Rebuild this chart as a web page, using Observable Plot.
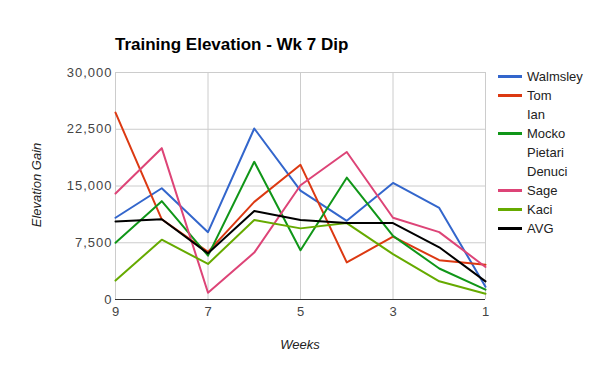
<!DOCTYPE html>
<html><head><meta charset="utf-8">
<script src="https://cdn.jsdelivr.net/npm/d3@7"></script>
<script src="https://cdn.jsdelivr.net/npm/@observablehq/plot@0.6"></script>
<style>
body{margin:0;background:#fff;font-family:"Liberation Sans",Arial,sans-serif;}
#wrap{position:relative;width:600px;height:371px;}
#title{position:absolute;left:115px;top:35px;font-weight:bold;font-size:17px;color:#000;white-space:nowrap;}
#legend{position:absolute;left:498px;top:67px;}
.row{display:flex;align-items:center;height:19px;font-size:13px;color:#222;white-space:nowrap;}
.sw{width:24px;height:3px;margin-right:5px;}
#ylab{position:absolute;left:36px;top:185px;transform:translate(-50%,-50%) rotate(-90deg);font-style:italic;font-size:13px;color:#222;white-space:nowrap;}
#xlab{position:absolute;left:300px;top:344px;transform:translate(-50%,-50%);font-style:italic;font-size:13px;color:#222;white-space:nowrap;}
#chart svg g[aria-label="y-axis tick label"] text{letter-spacing:1px;}
</style></head><body>
<div id="wrap"><div id="chart"></div><div id="title"></div><div id="ylab"></div><div id="xlab"></div><div id="legend"></div></div>
<script>
const title = "Training Elevation - Wk 7 Dip";
const xLabel = "Weeks";
const yLabel = "Elevation Gain";
const weeks = [9, 8, 7, 6, 5, 4, 3, 2, 1];
const xTicks = [9, 7, 5, 3, 1];
const yTicks = [0, 7500, 15000, 22500, 30000];
const seriesNames = ["Walmsley", "Tom", "Ian", "Mocko", "Pietari", "Denuci", "Sage", "Kaci", "AVG"];
const seriesColors = ["#3366cc", "#dc3912", "#ff9900", "#109618", "#990099", "#0099c6", "#dd4477", "#66aa00", "#000000"];
const walmsley = [10800, 14700, 8900, 22600, 14400, 10400, 15400, 12100, 1700];
const tom = [24700, 10600, 6300, 12900, 17800, 4900, 8300, 5200, 4600];
const ian = [];
const mocko = [7500, 13000, 5800, 18200, 6500, 16100, 8400, 4100, 1300];
const pietari = [];
const denuci = [];
const sage = [14000, 20000, 900, 6200, 15100, 19500, 10800, 8900, 4300];
const kaci = [2500, 7900, 4700, 10500, 9400, 10100, 6000, 2400, 750];
const avg = [10300, 10600, 6100, 11700, 10500, 10100, 10100, 6900, 2400];

const seriesValues = [walmsley, tom, ian, mocko, pietari, denuci, sage, kaci, avg];
const rows = [];
seriesNames.forEach((name, i) => {
  seriesValues[i].forEach((v, j) => rows.push({series: name, week: weeks[j], value: v}));
});

const chart = Plot.plot({
  width: 600, height: 371,
  marginLeft: 115, marginRight: 115, marginTop: 72, marginBottom: 72,
  style: {fontFamily: "'Liberation Sans', Arial, sans-serif", fontSize: "13px", color: "#444", background: "#fff"},
  x: {domain: [9, 1]},
  y: {domain: [0, 30000]},
  color: {domain: seriesNames, range: seriesColors},
  marks: [
    Plot.gridX(xTicks, {stroke: "#ccc", strokeOpacity: 1}),
    Plot.gridY(yTicks, {stroke: "#ccc", strokeOpacity: 1}),
    Plot.axisX(xTicks, {tickSize: 0, tickPadding: 7, label: null}),
    Plot.axisY(yTicks, {tickSize: 0, tickPadding: 3, tickFormat: d3.format(","), label: null}),
    Plot.line(rows, {x: "week", y: "value", z: "series", stroke: "series", strokeWidth: 2}),
    Plot.ruleY([0], {stroke: "#333", strokeWidth: 1})
  ]
});
document.getElementById("chart").appendChild(chart);
document.getElementById("title").textContent = title;
document.getElementById("xlab").textContent = xLabel;
document.getElementById("ylab").textContent = yLabel;
const leg = document.getElementById("legend");
seriesNames.forEach((name, i) => {
  const row = document.createElement("div");
  row.className = "row";
  const sw = document.createElement("div");
  sw.className = "sw";
  sw.style.background = seriesValues[i].length ? seriesColors[i] : "transparent";
  const t = document.createElement("span");
  t.textContent = name;
  row.appendChild(sw); row.appendChild(t);
  leg.appendChild(row);
});
</script>
</body></html>
